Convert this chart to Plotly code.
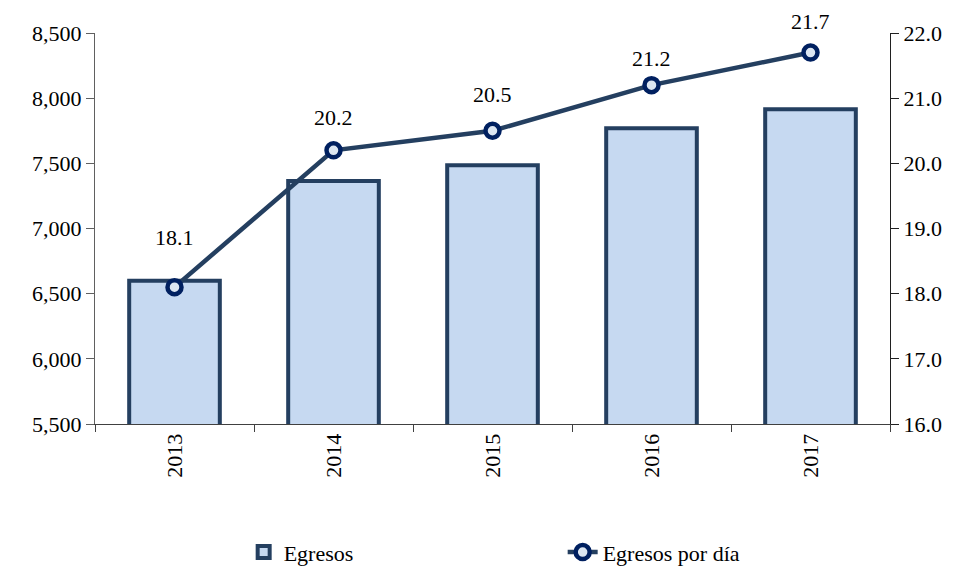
import plotly.graph_objects as go

years = ["2013", "2014", "2015", "2016", "2017"]
egresos = [6600, 7365, 7485, 7770, 7915]
egresos_dia = [18.1, 20.2, 20.5, 21.2, 21.7]
dia_labels = ["18.1", "20.2", "20.5", "21.2", "21.7"]

# vertical pixel offsets of each data label above its marker (style)
label_shift = [50, 33, 36, 27, 31]

FONT = "Liberation Serif, Times New Roman, serif"
FS = 22

fig = go.Figure()
fig.add_trace(go.Bar(
    x=years, y=egresos, name="Egresos",
    marker=dict(color="#C6D9F1", line=dict(color="#243F60", width=4)),
    width=0.57,
))
fig.add_trace(go.Scatter(
    x=years, y=egresos_dia, name="Egresos por día", yaxis="y2",
    mode="lines+markers",
    line=dict(color="#243F60", width=4.5),
    marker=dict(size=14, color="#DCE6F2", line=dict(color="#002060", width=4.5)),
))

for i, (y, t, s) in enumerate(zip(egresos_dia, dia_labels, label_shift)):
    fig.add_annotation(x=i, y=y, xref="x", yref="y2", text=t, showarrow=False,
                       yshift=s, font=dict(family=FONT, size=FS, color="#000"))

fig.update_layout(
    width=947, height=560,
    margin=dict(l=87, r=65, t=25, b=144, autoexpand=False),
    paper_bgcolor="white", plot_bgcolor="white",
    font=dict(family=FONT, size=FS, color="#000"),
    showlegend=True,
    legend=dict(orientation="h", x=0.187, xanchor="left", y=-0.328, yanchor="middle",
                font=dict(family=FONT, size=FS), entrywidth=274, entrywidthmode="pixels"),
    xaxis=dict(type="category", showline=True, linecolor="#404040", linewidth=1,
               ticks="outside", ticklen=7, tickcolor="#404040", tickson="boundaries",
               tickangle=-90, showgrid=False, zeroline=False, automargin=False),
    yaxis=dict(range=[5500, 8500], dtick=500, tickformat=",", showline=True,
               linecolor="#606060", linewidth=1, ticks="outside", ticklen=8,
               tickcolor="#606060", showgrid=False, zeroline=False, automargin=False),
    yaxis2=dict(range=[16, 22], dtick=1, tickformat=".1f", overlaying="y", side="right",
                showline=True, linecolor="#202020", linewidth=1, ticks="outside",
                ticklen=8, tickcolor="#202020", showgrid=False, zeroline=False,
                automargin=False),
)

fig.write_html("out.html")
